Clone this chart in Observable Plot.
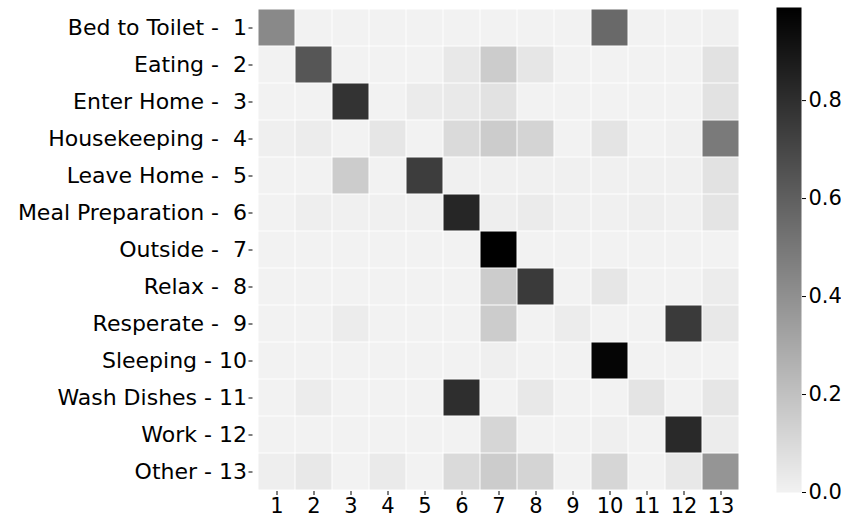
<!DOCTYPE html>
<html>
<head>
<meta charset="utf-8">
<script src="https://cdn.jsdelivr.net/npm/d3@7"></script>
<script src="https://cdn.jsdelivr.net/npm/@observablehq/plot@0.6"></script>
<style>
  html, body { margin: 0; padding: 0; background: #fff; }
  #wrap { position: relative; width: 841px; height: 518px; }
  #wrap svg { position: absolute; left: 0; top: 0; }
  #wrap svg text { white-space: pre; font-family: "DejaVu Sans", sans-serif; fill: #000; }
</style>
</head>
<body>
<div id="wrap"></div>
<script>
const activityLabels = ["Bed to Toilet","Eating","Enter Home","Housekeeping","Leave Home","Meal Preparation","Outside","Relax","Resperate","Sleeping","Wash Dishes","Work","Other"];
const classIds = [1,2,3,4,5,6,7,8,9,10,11,12,13];
// rows: true class, columns: predicted class
const row1  = [0.43, 0, 0, 0, 0, 0, 0, 0, 0, 0.56, 0, 0, 0.008];
const row2  = [0, 0.64, 0, 0, 0, 0.041, 0.155, 0.049, 0, 0, 0, 0, 0.065];
const row3  = [0, 0, 0.78, 0, 0.029, 0.037, 0.065, 0, 0, 0, 0, 0, 0.065];
const row4  = [0.012, 0.025, 0, 0.049, 0, 0.098, 0.155, 0.123, 0, 0.057, 0, 0.008, 0.49];
const row5  = [0, 0, 0.155, 0, 0.74, 0.008, 0.008, 0.008, 0.008, 0.008, 0.008, 0.008, 0.065];
const row6  = [0, 0.016, 0.008, 0.008, 0.008, 0.835, 0.016, 0.029, 0.008, 0.008, 0.016, 0.008, 0.057];
const row7  = [0, 0, 0, 0, 0, 0, 0.99, 0, 0, 0, 0, 0, 0];
const row8  = [0, 0, 0, 0, 0, 0, 0.155, 0.753, 0, 0.049, 0, 0, 0.025];
const row9  = [0, 0, 0.025, 0, 0, 0, 0.155, 0, 0.025, 0, 0, 0.753, 0.041];
const row10 = [0, 0, 0, 0, 0, 0, 0.012, 0, 0, 0.97, 0, 0, 0];
const row11 = [0, 0.025, 0, 0, 0, 0.80, 0, 0.041, 0, 0, 0.057, 0, 0.049];
const row12 = [0, 0, 0, 0, 0, 0, 0.115, 0, 0, 0.012, 0, 0.822, 0.025];
const row13 = [0.016, 0.041, 0, 0.033, 0, 0.098, 0.155, 0.123, 0, 0.115, 0, 0.041, 0.38];
const colorTicks = [0, 0.2, 0.4, 0.6, 0.8];
const colorMax = 0.99;

const rows = [row1,row2,row3,row4,row5,row6,row7,row8,row9,row10,row11,row12,row13];
const cells = [];
rows.forEach((r, i) => r.forEach((v, j) => cells.push({actual: classIds[i], predicted: classIds[j], value: v})));

const colorScale = {type: "linear", domain: [0, colorMax], range: ["#f2f2f2", "#000000"], interpolate: "rgb"};
const fontStyle = {fontFamily: "'DejaVu Sans', sans-serif", fontSize: "21px", color: "#000", background: "transparent", overflow: "visible"};

const main = Plot.plot({
  width: 841, height: 518,
  marginLeft: 252.5, marginRight: 96, marginTop: 8, marginBottom: 27,
  style: fontStyle,
  x: {domain: classIds, padding: 0, label: null},
  y: {domain: classIds, padding: 0, label: null},
  color: colorScale,
  marks: [
    Plot.cell(cells, {x: "predicted", y: "actual", fill: "value", inset: 0.5}),
    Plot.axisX({anchor: "bottom", tickSize: 4, tickPadding: 3, label: null, fontSize: 21}),
    Plot.axisY({anchor: "left", tickSize: 4, tickPadding: 2, label: null, fontSize: 22,
      tickFormat: d => `${activityLabels[d - 1]} - ${String(d).padStart(2, " ")}`})
  ]
});

const bar = Plot.plot({
  width: 841, height: 518,
  marginLeft: 776, marginRight: 40, marginTop: 7, marginBottom: 26,
  style: fontStyle,
  x: {domain: [0, 1], axis: null},
  y: {domain: [0, colorMax], label: null},
  color: colorScale,
  marks: [
    Plot.raster({x1: 0, x2: 1, y1: 0, y2: colorMax, width: 1, height: 485, fill: (x, y) => y, imageRendering: "auto"}),
    Plot.axisY({anchor: "right", ticks: colorTicks, tickFormat: d3.format(".1f"), tickSize: 4, tickPadding: 3, label: null, fontSize: 21})
  ]
});

const wrap = document.getElementById("wrap");
wrap.appendChild(main);
wrap.appendChild(bar);
</script>
</body>
</html>
